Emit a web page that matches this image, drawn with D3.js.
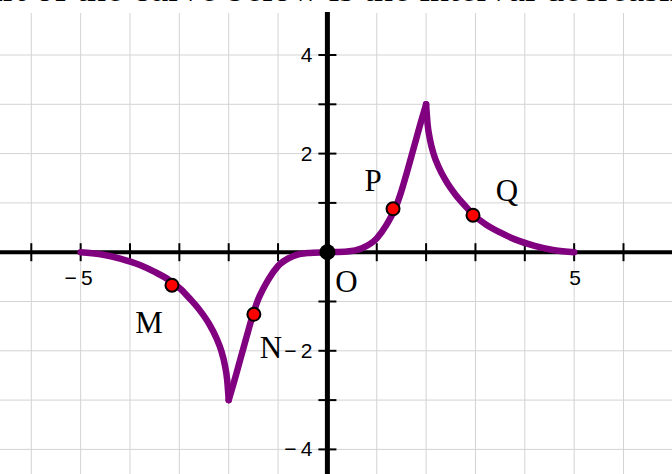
<!DOCTYPE html>
<html>
<head>
<meta charset="utf-8">
<script src="https://cdn.jsdelivr.net/npm/d3@7.9.0/dist/d3.min.js"></script>
<style>
  html, body { margin: 0; padding: 0; background: #fff; }
  svg { display: block; }
</style>
</head>
<body>
<svg id="chart" width="672" height="474"></svg>
<script>
// curve, split at the two cusps
const leftX = [-5, -4.6, -4.2, -3.8, -3.5, -3.2, -2.96, -2.8, -2.6, -2.4, -2.25, -2.15, -2.08, -2.03, -2];
const leftY = [0, -0.04, -0.13, -0.26, -0.4, -0.57, -0.76, -0.93, -1.16, -1.45, -1.74, -2.0, -2.28, -2.6, -3];
const midX = [-2, -1.9, -1.8, -1.7, -1.6, -1.5, -1.4, -1.3, -1.2, -1.0, -0.7, -0.4, 0, 0.4, 0.7, 1.0, 1.2, 1.3, 1.4, 1.5, 1.6, 1.7, 1.8, 1.9, 2];
const midY = [-3, -2.66, -2.3, -1.94, -1.58, -1.24, -0.95, -0.74, -0.56, -0.28, -0.08, -0.015, 0, 0.015, 0.08, 0.28, 0.56, 0.74, 0.95, 1.24, 1.58, 1.94, 2.3, 2.66, 3];
const rightX = [2, 2.03, 2.08, 2.15, 2.25, 2.4, 2.6, 2.8, 2.96, 3.2, 3.5, 3.8, 4.2, 4.6, 5];
const rightY = [3, 2.6, 2.28, 2.0, 1.74, 1.45, 1.16, 0.93, 0.76, 0.57, 0.4, 0.26, 0.13, 0.04, 0];

// marked points
const pointNames = ['M', 'N', 'P', 'Q'];
const pointX = [-3.15, -1.49, 1.33, 2.95];
const pointY = [-0.67, -1.26, 0.88, 0.75];

// axis ticks / labels
const gridX = d3.range(-6, 7);
const gridY = d3.range(-4, 5);
const xLabels = [-5, 5];
const yLabels = [4, 2, -2, -4];

const svg = d3.select('#chart');
const W = 672, H = 474;

const x = d3.scaleLinear().domain([-6, 6]).range([31.3, 623.5]);
const y = d3.scaleLinear().domain([-4, 4]).range([449.4, 55]);

const plotTop = 13;

// question text, mostly cut off at the top
svg.append('text')
  .attr('x', -144)
  .attr('y', 1)
  .attr('font-family', 'Liberation Serif, Times New Roman, serif')
  .attr('font-size', 38)
  .text('Which part of the curve below is the interval decreasing?');

// === grid ===
svg.append('g')
  .selectAll('line')
  .data(gridX.filter(d => d !== 0))
  .join('line')
  .attr('x1', d => x(d)).attr('x2', d => x(d))
  .attr('y1', plotTop).attr('y2', H)
  .attr('stroke', '#d3d3d3').attr('stroke-width', 1);

svg.append('g')
  .selectAll('line')
  .data(gridY.filter(d => d !== 0))
  .join('line')
  .attr('x1', 0).attr('x2', W)
  .attr('y1', d => y(d)).attr('y2', d => y(d))
  .attr('stroke', '#d3d3d3').attr('stroke-width', 1);

// === axes ===
svg.append('line')
  .attr('x1', 0).attr('x2', W)
  .attr('y1', y(0)).attr('y2', y(0))
  .attr('stroke', '#000').attr('stroke-width', 4);

svg.append('line')
  .attr('x1', x(0)).attr('x2', x(0))
  .attr('y1', plotTop - 1).attr('y2', H)
  .attr('stroke', '#000').attr('stroke-width', 5);

// tick marks
svg.append('g')
  .selectAll('line')
  .data(gridX.filter(d => d !== 0))
  .join('line')
  .attr('x1', d => x(d)).attr('x2', d => x(d))
  .attr('y1', y(0) - 9).attr('y2', y(0) + 9)
  .attr('stroke', '#000').attr('stroke-width', 2);

svg.append('g')
  .selectAll('line')
  .data(gridY.filter(d => d !== 0))
  .join('line')
  .attr('x1', x(0) - 9).attr('x2', x(0) + 9)
  .attr('y1', d => y(d)).attr('y2', d => y(d))
  .attr('stroke', '#000').attr('stroke-width', 2);

const fmt = d => (d < 0 ? '\u2212\u2009' : '') + Math.abs(d);

svg.append('g')
  .selectAll('text')
  .data(xLabels)
  .join('text')
  .attr('x', d => x(d) - (d < 0 ? 2 : -1))
  .attr('y', y(0) + 33)
  .attr('text-anchor', 'middle')
  .attr('font-family', 'Liberation Sans, Arial, sans-serif')
  .attr('font-size', 21)
  .text(fmt);

svg.append('g')
  .selectAll('text')
  .data(yLabels)
  .join('text')
  .attr('x', x(0) - 15)
  .attr('y', d => y(d) + 7)
  .attr('text-anchor', 'end')
  .attr('font-family', 'Liberation Sans, Arial, sans-serif')
  .attr('font-size', 21)
  .text(fmt);

// === curve ===
const line = d3.line()
  .x(d => x(d[0]))
  .y(d => y(d[1]))
  .curve(d3.curveMonotoneX);

[[leftX, leftY], [midX, midY], [rightX, rightY]].forEach(([xs, ys]) => {
  svg.append('path')
    .attr('d', line(xs.map((v, i) => [v, ys[i]])))
    .attr('fill', 'none')
    .attr('stroke', '#800080')
    .attr('stroke-width', 6.5)
    .attr('stroke-linecap', 'round')
    .attr('stroke-linejoin', 'round');
});

// === points ===
svg.append('circle')
  .attr('cx', x(0)).attr('cy', y(0))
  .attr('r', 8)
  .attr('fill', '#000');

svg.append('g')
  .selectAll('circle')
  .data(pointNames)
  .join('circle')
  .attr('cx', (d, i) => x(pointX[i]))
  .attr('cy', (d, i) => y(pointY[i]))
  .attr('r', 6.5)
  .attr('fill', '#ff0000')
  .attr('stroke', '#000')
  .attr('stroke-width', 2);

// point labels
const labelNames = ['M', 'N', 'P', 'Q', 'O'];
const labelDx = [-23, 17, -20, 34, 19];
const labelDy = [48, 44, -18, -14, 40];
const labelBaseX = [...pointX, 0];
const labelBaseY = [...pointY, 0];

svg.append('g')
  .selectAll('text')
  .data(labelNames)
  .join('text')
  .attr('x', (d, i) => x(labelBaseX[i]) + labelDx[i])
  .attr('y', (d, i) => y(labelBaseY[i]) + labelDy[i])
  .attr('text-anchor', 'middle')
  .attr('font-family', 'Liberation Serif, Times New Roman, serif')
  .attr('font-size', 31)
  .text(d => d);
</script>
</body>
</html>
